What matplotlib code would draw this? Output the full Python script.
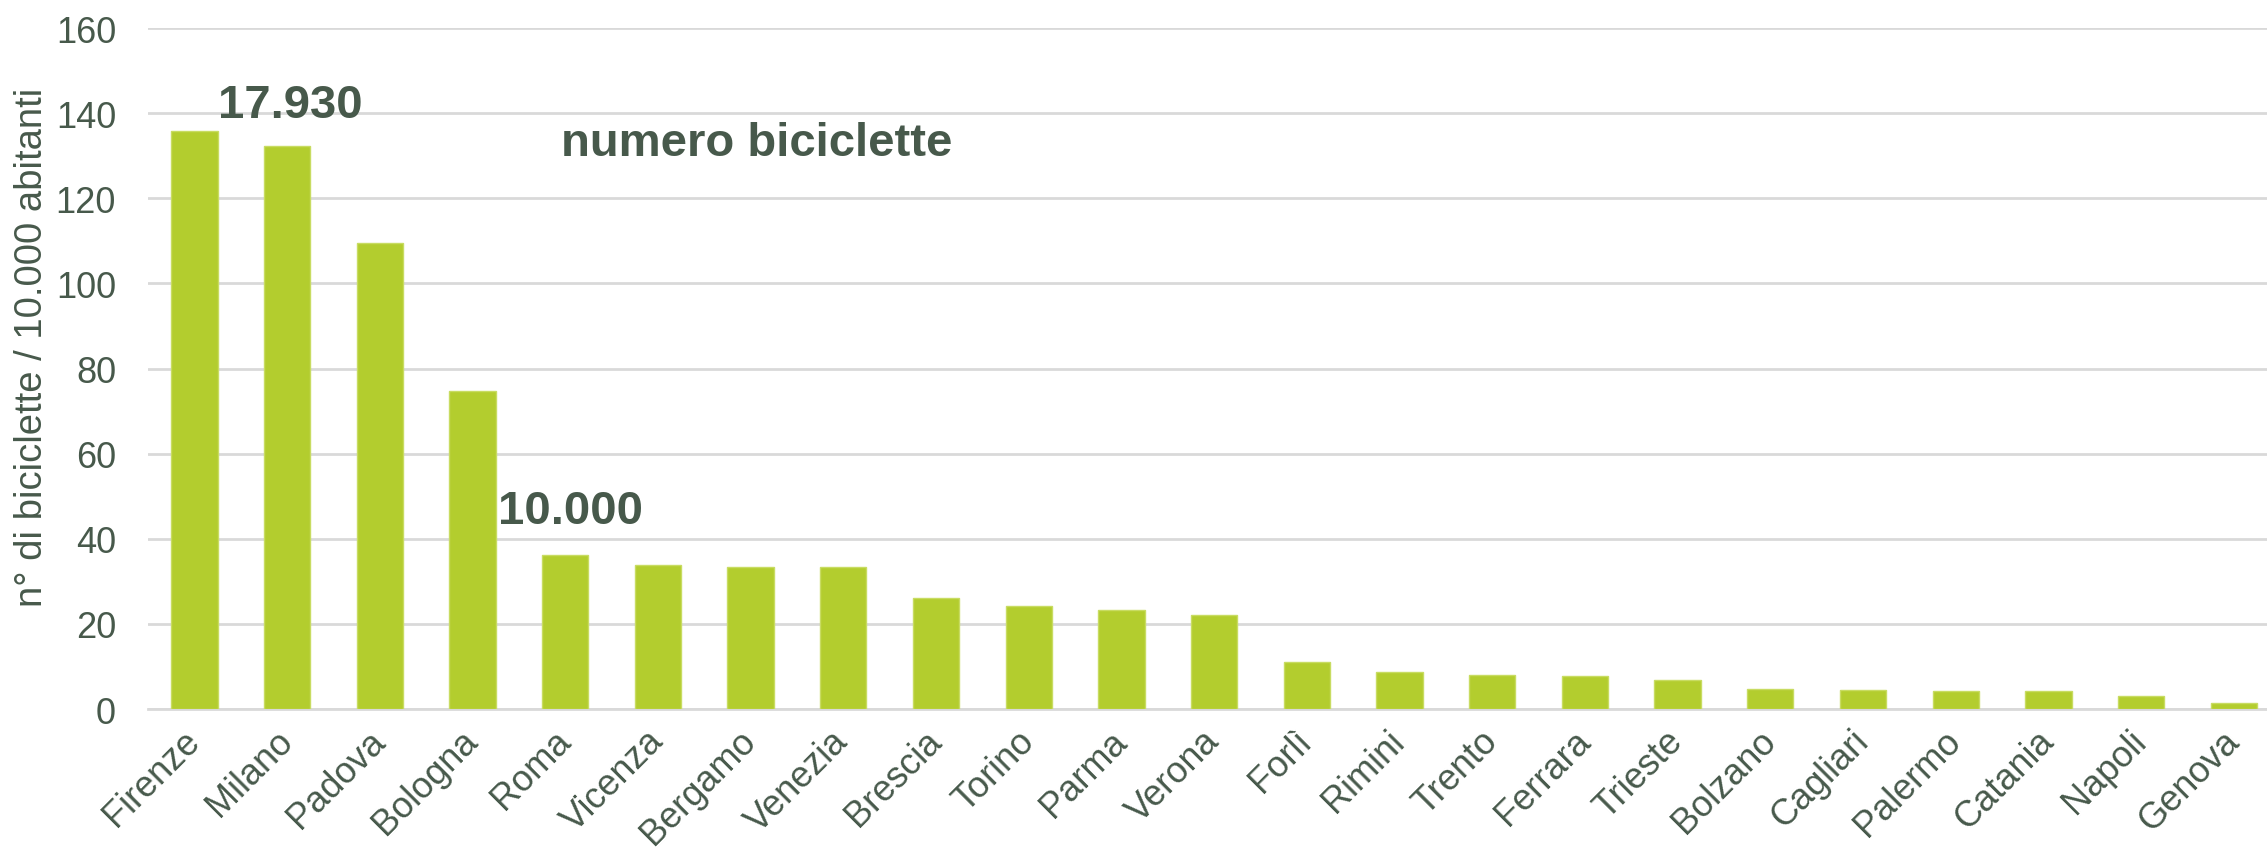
import matplotlib.pyplot as plt

# dati: biciclette in bike sharing ogni 10.000 abitanti
citta = ['Firenze', 'Milano', 'Padova', 'Bologna', 'Roma', 'Vicenza', 'Bergamo',
         'Venezia', 'Brescia', 'Torino', 'Parma', 'Verona', 'Forlì', 'Rimini',
         'Trento', 'Ferrara', 'Trieste', 'Bolzano', 'Cagliari', 'Palermo',
         'Catania', 'Napoli', 'Genova']
bici_10000 = [135.8, 132.4, 109.6, 74.8, 36.2, 33.8, 33.4, 33.4, 26.0, 24.2, 23.3,
              22.1, 11.0, 8.7, 7.9, 7.7, 6.8, 4.6, 4.5, 4.3, 4.2, 3.1, 1.5]
y_ticks = [0, 20, 40, 60, 80, 100, 120, 140, 160]

# etichette numero biciclette (testo, x, y)
note = [('17.930', 0.25, 139.0), ('10.000', 3.28, 43.8)]
titolo = 'numero biciclette'

verde = '#b3cd2e'
testo = '#47594b'
griglia = '#d9d9d9'

plt.rcParams['font.family'] = ['Liberation Sans', 'DejaVu Sans']

fig = plt.figure(figsize=(22.67, 8.54), dpi=100)
ax = fig.add_axes([0.0653, 0.1686, 0.9405, 0.7974])

x = range(len(citta))
ax.bar(x, bici_10000, width=0.5, color=verde, edgecolor='#c8dc62', linewidth=1, zorder=3)

ax.set_xlim(-0.5, len(citta) - 0.5)
ax.set_ylim(0, 160)
ax.set_yticks(y_ticks)
ax.set_xticks(list(x))
ax.set_xticklabels(citta, rotation=45, ha='right', va='center', rotation_mode='anchor')
ax.tick_params(axis='both', length=0, labelsize=26, labelcolor=testo)
ax.tick_params(axis='y', pad=23)
ax.tick_params(axis='x', pad=19)

ax.grid(axis='y', color=griglia, linewidth=2, zorder=0)
for s in ['top', 'right', 'left']:
    ax.spines[s].set_visible(False)
ax.spines['bottom'].set_color(griglia)
ax.spines['bottom'].set_linewidth(2)

for t, xx, yy in note:
    ax.text(xx, yy, t, fontsize=34, fontweight='bold', color=testo,
            ha='left', va='baseline', zorder=4)
ax.text(3.95, 130.2, titolo, fontsize=34, fontweight='bold', color=testo,
        ha='left', va='baseline', zorder=4)

fig.text(32 / 2267, 1 - 347 / 854, 'n° di biciclette / 10.000 abitanti',
         rotation=90, ha='center', va='center', fontsize=27.5, color=testo)

plt.savefig('out.png', dpi=100)
